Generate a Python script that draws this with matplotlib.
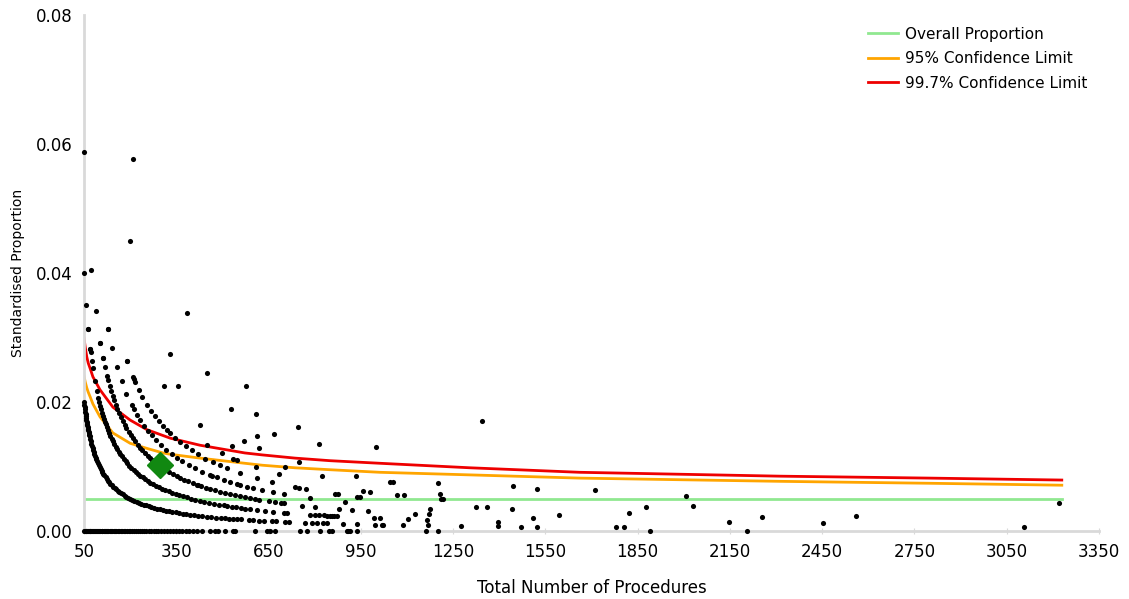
import numpy as np
import matplotlib
matplotlib.use("Agg")
import matplotlib.pyplot as plt

# units with 0 events (standardised proportion = events / procedures)
zero_n = [50, 52, 55, 57, 60, 63, 66, 68, 71, 74, 77, 80, 83, 86, 90, 93, 96, 100, 103, 107,
          110, 114, 118, 121, 125, 129, 133, 137, 141, 146, 150, 155, 159, 164, 169, 174, 179,
          184, 190, 195, 201, 207, 213, 219, 226, 232, 239, 246, 253, 261, 268, 276, 284, 292,
          301, 310, 319, 328, 338, 348, 358, 369, 380, 392, 404, 417, 434, 460, 476, 486, 508,
          534, 541, 606, 645, 655, 671, 752, 775, 817, 846, 856, 905, 908, 915, 938, 1162,
          1201, 1890, 2206]
one_n = [50, 51, 52, 53, 54, 55, 56, 57, 58, 59, 60, 61, 62, 63, 64, 65, 66, 67, 68, 70, 72,
         74, 76, 78, 80, 82, 84, 86, 88, 90, 92, 95, 98, 101, 104, 107, 110, 113, 116, 120, 124,
         128, 132, 136, 140, 145, 150, 155, 160, 165, 170, 176, 182, 188, 194, 200, 207, 214,
         221, 228, 236, 244, 252, 260, 269, 278, 287, 296, 306, 316, 326, 337, 348, 359, 371,
         383, 395, 408, 421, 435, 449, 463, 478, 494, 510, 520, 535, 548, 560, 585, 600, 620,
         635, 662, 675, 705, 718, 770, 790, 807, 827, 840, 892, 938, 996, 1019, 1022, 1087,
         1168, 1276, 1396, 1471, 1523, 1780, 1806]
two_n = [64, 71, 72, 76, 79, 86, 92, 97, 100, 103, 106, 109, 112, 115, 118, 121, 124, 128, 132,
         136, 140, 144, 148, 153, 158, 163, 168, 173, 179, 185, 191, 197, 204, 211, 218, 225,
         233, 241, 249, 257, 266, 275, 284, 294, 304, 314, 325, 336, 348, 360, 372, 385, 398,
         412, 426, 441, 456, 472, 488, 505, 515, 530, 545, 560, 575, 590, 612, 640, 665, 700,
         710, 785, 800, 815, 830, 840, 850, 856, 864, 872, 993, 1012, 1103, 1165, 1396, 3106]
three_n = [103, 112, 118, 125, 128, 133, 138, 143, 148, 153, 158, 164, 170, 176, 182, 188, 195,
           202, 209, 216, 224, 232, 240, 248, 257, 266, 271, 275, 285, 295, 305, 316, 327, 339,
           351, 363, 376, 389, 403, 417, 421, 432, 446, 460, 475, 492, 508, 525, 540, 556, 575,
           590, 605, 620, 650, 670, 690, 700, 760, 800, 879, 921, 973, 1126, 1172, 1510, 2147,
           2452]
four_n = [128, 141, 157, 172, 188, 205, 212, 222, 232, 245, 258, 270, 285, 300, 318, 335, 352,
          370, 390, 412, 435, 460, 466, 482, 505, 525, 547, 557, 580, 600, 630, 665, 700, 785,
          899, 1175, 1594]
five_n = [190, 209, 212, 216, 228, 240, 255, 268, 281, 294, 307, 320, 330, 345, 362, 380, 400,
          421, 445, 470, 492, 515, 557, 612, 660, 736, 750, 772, 866, 875, 938, 948, 1324, 1360,
          1441, 1822, 2254]
six_n = [450, 499, 534, 547, 609, 684, 957, 980, 1068, 1090, 1210, 1217, 2560]
seven_n = [427, 530, 703, 824, 1207, 1877]
eight_n = [571, 620, 749, 934, 1045, 1055, 2030]

# higher counts, one unit each
outlier_n = [51, 50, 74, 57, 88, 64, 128, 103, 71, 112, 190, 200, 208, 311, 328, 356, 385, 450,
             578, 529, 608, 612, 667, 745, 815, 1000, 1201, 1445, 1523, 1711, 2007, 1345, 3220]
outlier_events = [3, 2, 3, 2, 3, 2, 4, 3, 2, 3, 5, 9, 12, 7, 9, 8, 13, 11, 13, 10, 11, 9, 10, 12,
                  11, 13, 9, 10, 10, 11, 11, 23, 14]

# highlighted unit
focus_n = 297
focus_p = 0.0102

# control limits
limit_n = [50, 54, 59, 64, 70, 79, 102, 144, 200, 255, 307, 330, 427, 573, 629, 736, 850, 1012,
           1305, 1662, 2313, 2800, 3229]
upper_997 = [0.0299, 0.0285, 0.0270, 0.0260, 0.0252, 0.0239, 0.0219, 0.0192, 0.0172, 0.0157,
             0.0148, 0.0144, 0.0133, 0.0121, 0.0118, 0.0113, 0.0109, 0.0105, 0.0098, 0.0091,
             0.0085, 0.0082, 0.0079]
upper_95 = [0.0240, 0.0231, 0.0222, 0.0215, 0.0208, 0.0197, 0.0177, 0.0152, 0.0136, 0.0128,
            0.0121, 0.0119, 0.0113, 0.0105, 0.0102, 0.0098, 0.0095, 0.0091, 0.0087, 0.0082,
            0.0077, 0.0074, 0.0071]
overall_p = 0.005

bands = [zero_n, one_n, two_n, three_n, four_n, five_n, six_n, seven_n, eight_n]
n_all = []
p_all = []
for k, ns in enumerate(bands):
    for n in ns:
        n_all.append(n)
        p_all.append(k / n)
for n, k in zip(outlier_n, outlier_events):
    n_all.append(n)
    p_all.append(k / n)

fig = plt.figure(figsize=(11.29, 5.99), dpi=100)
ax = fig.add_axes([84 / 1129, 1 - 531 / 599, 1015 / 1129, 516 / 599])

ax.plot(n_all, p_all, 'o', color='black', markersize=3.7, markeredgewidth=0, clip_on=False,
        zorder=3)
ax.plot([limit_n[0], limit_n[-1]], [overall_p, overall_p], color='#90e890', lw=2,
        label='Overall Proportion', zorder=2)
ax.plot(limit_n, upper_95, color='#ffa500', lw=2, label='95% Confidence Limit', zorder=2)
ax.plot(limit_n, upper_997, color='#ee0000', lw=2, label='99.7% Confidence Limit', zorder=2)
ax.plot([focus_n], [focus_p], 'D', color='#118811', markersize=13, zorder=4)

ax.set_xlim(50, 3350)
ax.set_ylim(0, 0.08)
ax.set_xticks(np.arange(50, 3351, 300))
ax.set_yticks([0, 0.02, 0.04, 0.06, 0.08])
ax.set_yticklabels(['0.00', '0.02', '0.04', '0.06', '0.08'])
for s in ['top', 'right']:
    ax.spines[s].set_visible(False)
for s in ['left', 'bottom']:
    ax.spines[s].set_color('#d9d9d9')
    ax.spines[s].set_linewidth(2)
ax.tick_params(axis='x', direction='inout', length=5, color='#d9d9d9', labelsize=12, pad=6)
ax.tick_params(axis='y', length=0, labelsize=12, pad=8)

ax.set_xlabel('Total Number of Procedures', fontsize=12, labelpad=13)
ax.set_ylabel('Standardised Proportion', fontsize=10, labelpad=8)

ax.legend(loc='upper left', bbox_to_anchor=(860 / 1129, 1 - 19 / 599),
          bbox_transform=fig.transFigure, frameon=False, fontsize=11, handlelength=2.0,
          handletextpad=0.45, labelspacing=0.62, borderpad=0)

fig.savefig('out.png', dpi=100)
